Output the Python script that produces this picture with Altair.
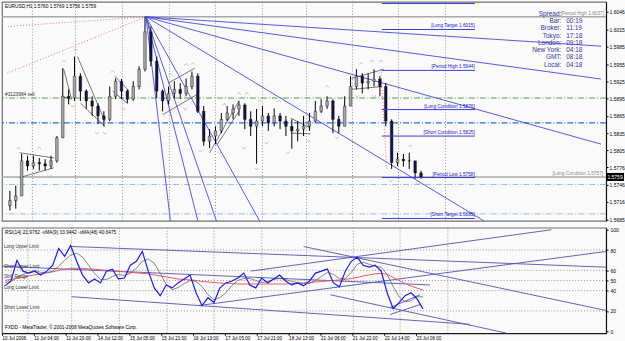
import altair as alt
import pandas as pd

# ---------------- data ----------------
symbol_title = "EURUSD,H1  1.5760 1.5769 1.5756 1.5759"

opens = [1.5709, 1.5718, 1.5726, 1.5787, 1.5778, 1.5784, 1.5782, 1.5778, 1.5787, 1.5827,
         1.5899, 1.5896, 1.5934, 1.5908, 1.5891, 1.5882, 1.5865, 1.5859, 1.5899, 1.5925,
         1.5908, 1.5894, 1.5916, 1.5946, 1.6011, 1.5960, 1.5908, 1.5891, 1.5904, 1.5911,
         1.5904, 1.5916, 1.5934, 1.5873, 1.5821, 1.5830, 1.5839, 1.5859, 1.5870, 1.5877,
         1.5884, 1.5859, 1.5847, 1.5856, 1.5865, 1.5853, 1.5865, 1.5856, 1.5847, 1.5839,
         1.5842, 1.5847, 1.5856, 1.5873, 1.5882, 1.5891, 1.5859, 1.5847, 1.5882, 1.5916,
         1.5934, 1.5922, 1.5925, 1.5929, 1.5916, 1.5856, 1.5784, 1.5790, 1.5787, 1.5787,
         1.5766]
highs = [1.5735, 1.5744, 1.5799, 1.5796, 1.5796, 1.5792, 1.5790, 1.5796, 1.5830, 1.5948,
         1.5911, 1.5968, 1.5939, 1.5911, 1.5899, 1.5887, 1.5873, 1.5916, 1.5930, 1.5929,
         1.5911, 1.5925, 1.5951, 1.6037, 1.6020, 1.5968, 1.5911, 1.5916, 1.5925, 1.5922,
         1.5930, 1.5942, 1.5939, 1.5882, 1.5842, 1.5847, 1.5870, 1.5882, 1.5885, 1.5891,
         1.5887, 1.5873, 1.5877, 1.5882, 1.5870, 1.5878, 1.5870, 1.5865, 1.5859, 1.5856,
         1.5865, 1.5870, 1.5891, 1.5894, 1.5899, 1.5894, 1.5865, 1.5899, 1.5934, 1.5946,
         1.5939, 1.5939, 1.5946, 1.5934, 1.5922, 1.5859, 1.5801, 1.5799, 1.5801, 1.5787,
         1.5770]
lows = [1.5701, 1.5704, 1.5726, 1.5770, 1.5773, 1.5770, 1.5770, 1.5773, 1.5784, 1.5827,
        1.5885, 1.5891, 1.5891, 1.5877, 1.5865, 1.5851, 1.5847, 1.5856, 1.5894, 1.5894,
        1.5887, 1.5891, 1.5911, 1.5942, 1.5951, 1.5896, 1.5873, 1.5885, 1.5896, 1.5894,
        1.5899, 1.5911, 1.5870, 1.5813, 1.5809, 1.5816, 1.5835, 1.5856, 1.5859, 1.5865,
        1.5842, 1.5830, 1.5782, 1.5847, 1.5839, 1.5847, 1.5842, 1.5830, 1.5808, 1.5821,
        1.5830, 1.5839, 1.5853, 1.5870, 1.5877, 1.5835, 1.5835, 1.5847, 1.5882, 1.5911,
        1.5904, 1.5911, 1.5916, 1.5899, 1.5847, 1.5773, 1.5778, 1.5777, 1.5773, 1.5756,
        1.5756]
closes = [1.5718, 1.5726, 1.5787, 1.5778, 1.5784, 1.5782, 1.5778, 1.5787, 1.5827, 1.5899,
          1.5896, 1.5934, 1.5908, 1.5891, 1.5882, 1.5865, 1.5859, 1.5899, 1.5925, 1.5908,
          1.5894, 1.5916, 1.5946, 1.6011, 1.5960, 1.5908, 1.5891, 1.5904, 1.5911, 1.5904,
          1.5916, 1.5934, 1.5873, 1.5821, 1.5830, 1.5839, 1.5859, 1.5870, 1.5877, 1.5884,
          1.5859, 1.5847, 1.5856, 1.5865, 1.5853, 1.5865, 1.5856, 1.5847, 1.5839, 1.5842,
          1.5847, 1.5856, 1.5873, 1.5882, 1.5891, 1.5859, 1.5847, 1.5882, 1.5916, 1.5934,
          1.5922, 1.5925, 1.5929, 1.5916, 1.5856, 1.5784, 1.5790, 1.5787, 1.5787, 1.5766,
          1.5759]

rsi_vals = [44.7, 49.5, 69.9, 59.2, 57.3, 59.2, 55.3, 59.2, 65.0, 81.6,
            73.8, 84.5, 68.9, 55.3, 47.6, 51.5, 47.6, 59.2, 61.2, 51.5,
            52.4, 65.0, 68.9, 78.6, 59.2, 42.7, 35.0, 45.6, 42.7, 47.6,
            51.5, 55.3, 37.9, 25.2, 33.0, 28.2, 42.7, 47.6, 49.5, 52.4,
            57.3, 45.6, 42.7, 52.4, 47.6, 51.5, 55.3, 49.5, 45.6, 47.6,
            44.7, 49.5, 57.3, 59.2, 61.2, 47.6, 43.7, 59.2, 68.9, 72.8,
            65.0, 63.1, 65.0, 59.2, 37.9, 22.3, 28.2, 35.0, 37.9, 32.0,
            22.0]
ma9_vals = [48, 49, 53, 56, 58, 60, 58, 58, 59, 64,
            70, 75, 77, 73, 65, 57, 51, 51, 54, 56,
            55, 57, 62, 69, 71, 67, 57, 46, 41, 43,
            47, 50, 49, 44, 36, 31, 33, 38, 45, 50,
            52, 52, 50, 48, 49, 51, 52, 51, 49, 48,
            47, 47, 50, 54, 58, 56, 52, 52, 58, 66,
            68, 66, 64, 63, 56, 44, 34, 29, 30, 34,
            33.9]
ma48_vals = [50, 51, 52, 53, 54.5, 55.5, 56.5, 57.5, 58.5, 60,
             61, 62, 62, 62, 61.5, 61, 60.5, 60, 59.5, 59,
             58.5, 58, 57.5, 57, 56.5, 55.5, 54.5, 53.5, 52.5, 51.5,
             51, 50.5, 50, 49, 48.5, 48, 47.5, 47, 47, 46.5,
             46.5, 46.5, 46.5, 46.5, 46.5, 46.5, 46.5, 46.5, 47, 47,
             47.5, 48, 48.5, 49, 49.5, 50, 50.5, 51, 52, 53,
             54.5, 55.5, 56.5, 57, 56, 53, 50, 47, 44.5, 42.5,
             40.6]

grid_bars = [13, 35, 59, 83, 106.5, 130.5, 153, 176.5, 200, 224]
price_ticks = [1.6046, 1.6015, 1.5985, 1.5955, 1.5925, 1.5895, 1.5865, 1.5835,
               1.5805, 1.5776, 1.5746, 1.5716, 1.5685]
rsi_ticks = [100, 80, 60, 50, 40, 20, 0]
time_tick_bars = [0, 16, 32, 48, 64, 80, 96, 112, 128, 144, 160, 176, 192, 208]
time_labels = ["10 Jul 2008", "11 Jul 04:00", "11 Jul 20:00", "14 Jul 12:00",
               "15 Jul 05:00", "15 Jul 21:00", "16 Jul 13:00", "17 Jul 05:00",
               "17 Jul 21:00", "18 Jul 13:00", "21 Jul 06:00", "21 Jul 22:00",
               "22 Jul 14:00", "23 Jul 06:00"]

gray_levels = [1.6037, 1.5759]
green_levels = [1.5896]
blue_levels = [1.5853]
light_levels = [1.5746, 1.5695]

level_start = [191.5] * 7
level_end = [239] * 7
level_prices = [1.6060, 1.6015, 1.5944, 1.5876, 1.5830, 1.5758, 1.5687]
level_texts = ["", "[Long Target 1.6015]", "[Period High 1.5944]", "[Long Condition 1.5876]",
               "[Short Condition 1.5825]", "[Period Low 1.5758]", "[Short Target 1.5685]"]

fan_from_bar = 71
fan_from_price = 1.6037
fan_to_bar = [303.5, 303.5, 303.5, 243.5, 83.5, 97.5, 107, 129]
fan_to_price = [1.5986, 1.5929, 1.5816, 1.5683, 1.5683, 1.5683, 1.5683, 1.5683]

red_b1 = [71, 71, 191]
red_p1 = [1.6037, 1.6037, 1.5946]
red_b2 = [0, 0, 194]
red_p2 = [1.6020, 1.5939, 1.5773]

pat_b1 = [6.5, 6.5, 29, 28, 36, 37.5, 55, 54, 82.5, 80, 103.5, 107.5, 145, 145, 176, 176]
pat_p1 = [1.5801, 1.5758, 1.5946, 1.5899, 1.5968, 1.5887, 1.5934, 1.5908, 1.5922, 1.5868,
          1.5801, 1.5816, 1.5861, 1.5835, 1.5930, 1.5911]
pat_b2 = [24, 24, 33, 33, 50, 50, 62.5, 61.5, 96, 97.5, 118.5, 118.5, 155, 155, 192.5, 191.5]
pat_p2 = [1.5792, 1.5775, 1.5894, 1.5894, 1.5856, 1.5847, 1.5908, 1.5887, 1.5948, 1.5903,
          1.5891, 1.5873, 1.5844, 1.5834, 1.5946, 1.5916]

frac_up_bar = [6, 16.5, 29, 35, 54, 83.5, 91.5, 95, 111, 118.5, 122.5, 129, 139, 163.5,
               181, 186.5, 191, 206]
frac_up_price = [1.5809, 1.5809, 1.5960, 1.5980, 1.5942, 1.5937, 1.5954, 1.5956, 1.5885,
                 1.5904, 1.5904, 1.5891, 1.5891, 1.5916, 1.5956, 1.5960, 1.5960, 1.5813]
frac_dn_bar = [21.5, 33.5, 46, 50, 59.5, 80, 91, 99, 108.5, 121, 127.5, 132.5, 143.5,
               154, 168.5, 179, 187.5, 196, 210]
frac_dn_price = [1.5761, 1.5882, 1.5835, 1.5835, 1.5877, 1.5868, 1.5877, 1.5804, 1.5801,
                 1.5809, 1.5773, 1.5818, 1.5801, 1.5821, 1.5827, 1.5899, 1.5899, 1.5752,
                 1.5747]

info_labels = ["Spread:", "Bar:", "Broker:", "Tokyo:", "London:", "New York:", "GMT:", "Local:"]
info_values = ["", "00:19", "11:19", "17:18", "09:18", "04:18", "08:18", "04:18"]

rsi_levels = [80, 60, 50, 40, 20]
rsi_level_names = ["Long Upper Limit", "Short Upper Limit", "Shift Range",
                   "Long Lower Limit", "Short Lower Limit"]

ch_b1 = [35, 35, 151.5, 98.5, 125, 165, 0, 195, 195]
ch_v1 = [83.5, 34, 83.5, 25.2, 59.2, 35.9, 64, 16.5, 23.3]
ch_b2 = [303.5, 235, 303.5, 303.5, 276, 253.5, 215, 210, 210]
ch_v2 = [63.1, 6.8, 20.4, 78.6, 100, -1.9, 45.6, 26.2, 35.9]

rsi_header = "RSI(14) 21.9762  -xMA(9) 33.9442  -xMA(48) 40.6475"
footer = "FXDD - MetaTrader, \u00a9 2001-2008 MetaQuotes Software Corp."

# ---------------- frames ----------------
n = len(closes)
bar_index = [1.5 + 3 * i for i in range(n)]
candles = pd.DataFrame({"bar": bar_index, "open": opens, "high": highs,
                        "low": lows, "close": closes})
osc = pd.DataFrame({"bar": bar_index, "rsi": rsi_vals, "ma9": ma9_vals, "ma48": ma48_vals})
grid_df = pd.DataFrame({"bar": grid_bars})
levels_df = pd.DataFrame({"b1": level_start, "b2": level_end, "price": level_prices,
                          "label": level_texts})
labels_df = levels_df[levels_df["label"] != ""]
fan_df = pd.DataFrame({"b1": [fan_from_bar] * len(fan_to_bar),
                       "p1": [fan_from_price] * len(fan_to_bar),
                       "b2": fan_to_bar, "p2": fan_to_price})
red_df = pd.DataFrame({"b1": red_b1, "p1": red_p1, "b2": red_b2, "p2": red_p2})
pat_df = pd.DataFrame({"b1": pat_b1, "p1": pat_p1, "b2": pat_b2, "p2": pat_p2})
fu_df = pd.DataFrame({"bar": frac_up_bar, "price": frac_up_price})
fd_df = pd.DataFrame({"bar": frac_dn_bar, "price": frac_dn_price})
rl_df = pd.DataFrame({"lvl": rsi_levels, "name": rsi_level_names})
ch_df = pd.DataFrame({"b1": ch_b1, "v1": ch_v1, "b2": ch_b2, "v2": ch_v2})
one = pd.DataFrame({"k": [0]})

FONT = "Liberation Sans"
W = 607
xs = alt.Scale(domain=[0, 303.5], nice=False, zero=False)
ys = alt.Scale(domain=[1.5683, 1.6063], nice=False, zero=False)
rs = alt.Scale(domain=[-2.0, 102.0], nice=False, zero=False)

price_axis = alt.Axis(orient="right", values=price_ticks, format=".4f", labelFontSize=5,
                      labelFont=FONT, labelColor="black", tickSize=2, tickColor="black",
                      domainColor="black", grid=False, title=None, labelPadding=1)
rsi_axis = alt.Axis(orient="right", values=rsi_ticks, format="d", labelFontSize=5,
                    labelFont=FONT, labelColor="black", tickSize=2, tickColor="black",
                    domainColor="black", grid=False, title=None, labelPadding=2)
lab_expr = "[" + ",".join("'%s'" % t for t in time_labels) + "][round(datum.value/16)]"
time_axis = alt.Axis(values=time_tick_bars, labelExpr=lab_expr, labelAlign="left",
                     labelBaseline="top", labelFontSize=4.6, labelFont=FONT,
                     labelColor="black", tickSize=2, tickColor="black", domainColor="black",
                     grid=False, title=None, labelPadding=0.5, labelOverlap=False,
                     labelFlush=False)


def X(f):
    return alt.X(f, type="quantitative", scale=xs, axis=None)


def YP(f):
    return alt.Y(f, type="quantitative", scale=ys, axis=price_axis)


def XR(f):
    return alt.X(f, type="quantitative", scale=xs, axis=time_axis)


def YR(f):
    return alt.Y(f, type="quantitative", scale=rs, axis=rsi_axis)


def hlines(vals, color, dash, width=1.0):
    return alt.Chart(pd.DataFrame({"price": vals})).mark_rule(
        color=color, strokeDash=dash, strokeWidth=width).encode(y=YP("price"))


def segs(df, color, width=1.0, dash=None):
    kw = dict(color=color, strokeWidth=width)
    if dash:
        kw["strokeDash"] = dash
    return alt.Chart(df).mark_rule(**kw).encode(
        x=X("b1"), x2="b2", y=YP("p1"), y2="p2")


grid = alt.Chart(grid_df).mark_rule(color="#7a7a7a", strokeDash=[1, 2],
                                    strokeWidth=0.8).encode(x=X("bar"))

wick = alt.Chart(candles).mark_rule(color="black", strokeWidth=1).encode(
    x=X("bar"), y=YP("low"), y2="high")
body = alt.Chart(candles).mark_bar(size=2.6, stroke="black", strokeWidth=0.4).encode(
    x=X("bar"), y=YP("open"), y2="close",
    color=alt.condition("datum.close >= datum.open", alt.value("#a8a8a8"), alt.value("#14144a")))

up_shape = "M -1 0.6 L 0 -0.6 L 1 0.6"
dn_shape = "M -1 -0.6 L 0 0.6 L 1 -0.6"
frac_up = alt.Chart(fu_df).mark_point(shape=up_shape, filled=False, size=14, color="#a8a8a8",
                                      strokeWidth=0.9).encode(x=X("bar"), y=YP("price"))
frac_dn = alt.Chart(fd_df).mark_point(shape=dn_shape, filled=False, size=14, color="#a8a8a8",
                                      strokeWidth=0.9).encode(x=X("bar"), y=YP("price"))

lvl_rules = alt.Chart(levels_df).mark_rule(color="#3a3ae0", strokeWidth=1).encode(
    x=X("b1"), x2="b2", y=YP("price"))
lvl_text = alt.Chart(labels_df).mark_text(align="right", baseline="bottom", dy=-1,
                                          fontSize=4.8, font=FONT, color="#2020c0").encode(
    x=X("b2"), y=YP("price"), text="label:N")

title_t = alt.Chart(one).mark_text(align="left", baseline="middle", fontSize=4.8, font=FONT,
                                   color="black").encode(
    x=alt.value(3), y=alt.value(5), text=alt.value(symbol_title))
order_t = alt.Chart(pd.DataFrame({"price": green_levels})).mark_text(
    align="left", baseline="bottom", dy=-1, fontSize=4.8, font=FONT, color="#303030").encode(
    x=alt.value(3), y=YP("price"), text=alt.value("#3123984 sell"))
info_l = alt.Chart(one).mark_text(align="right", baseline="top", fontSize=6.5, font=FONT,
                                  lineHeight=7.3, color="#34349a").encode(
    x=alt.value(562), y=alt.value(9), text=alt.value(info_labels))
info_v = alt.Chart(one).mark_text(align="left", baseline="top", fontSize=6.5, font=FONT,
                                  lineHeight=7.3, color="#34349a").encode(
    x=alt.value(567), y=alt.value(9), text=alt.value(info_values))
ph_t = alt.Chart(pd.DataFrame({"price": [1.6037]})).mark_text(
    align="right", baseline="bottom", dy=-1, fontSize=4.8, font=FONT, color="#8a8a8a").encode(
    x=alt.value(605), y=YP("price"), text=alt.value("[Period High 1.6037]"))
lc_t = alt.Chart(pd.DataFrame({"price": [1.5759]})).mark_text(
    align="right", baseline="bottom", dy=-1, fontSize=4.8, font=FONT, color="#8a8a8a").encode(
    x=alt.value(604), y=YP("price"), text=alt.value("[Long Condition 1.5757]"))
tag_box = alt.Chart(pd.DataFrame({"price": [1.5759]})).mark_point(
    shape="M -1 -0.45 L 1 -0.45 L 1 0.45 L -1 0.45 Z", filled=True, size=324, color="black",
    opacity=1).encode(x=alt.value(616), y=YP("price"))
tag_t = alt.Chart(pd.DataFrame({"price": [1.5759]})).mark_text(
    align="center", baseline="middle", fontSize=5, font=FONT, color="white").encode(
    x=alt.value(616), y=YP("price"), text=alt.value("1.5759"))

main = alt.layer(
    grid,
    hlines(gray_levels, "#a9a9a9", [1, 0], 1.4),
    hlines(green_levels, "#4aa04a", [6, 2, 1, 2], 1),
    hlines(blue_levels, "#1f74e0", [6, 2, 1, 2], 1.2),
    hlines(light_levels, "#86c0f5", [6, 2, 1, 2], 1),
    segs(red_df, "#f07070", 1, [1, 2]),
    segs(fan_df, "#4646e6", 0.9),
    segs(pat_df, "#404040", 0.7),
    wick, body, frac_up, frac_dn,
    lvl_rules, lvl_text, title_t, order_t, info_l, info_v, ph_t, lc_t, tag_box, tag_t,
).properties(width=W, height=220)

# ---------------- oscillator panel ----------------
grid_r = alt.Chart(grid_df).mark_rule(color="#7a7a7a", strokeDash=[1, 2],
                                      strokeWidth=0.8).encode(x=XR("bar"))
lvl_r = alt.Chart(rl_df).mark_rule(color="#8a8a8a", strokeDash=[1, 2],
                                   strokeWidth=0.9).encode(y=YR("lvl"))
lvl_rt = alt.Chart(rl_df).mark_text(align="left", baseline="bottom", dy=-1, fontSize=4.6,
                                    font=FONT, color="#303030").encode(
    x=alt.value(2), y=YR("lvl"), text="name:N")
ch = alt.Chart(ch_df).mark_rule(color="#5252b4", strokeWidth=0.9).encode(
    x=XR("b1"), x2="b2", y=YR("v1"), y2="v2")
l48 = alt.Chart(osc).mark_line(color="#f05a5a", strokeWidth=1).encode(x=XR("bar"), y=YR("ma48"))
l9 = alt.Chart(osc).mark_line(color="#555555", strokeWidth=0.7).encode(x=XR("bar"), y=YR("ma9"))
lr = alt.Chart(osc).mark_line(color="#1a1aff", strokeWidth=1.2).encode(x=XR("bar"), y=YR("rsi"))
hdr = alt.Chart(one).mark_text(align="left", baseline="middle", fontSize=4.8, font=FONT,
                               color="black").encode(
    x=alt.value(3), y=alt.value(5), text=alt.value(rsi_header))
ftr = alt.Chart(one).mark_text(align="left", baseline="middle", fontSize=4.8, font=FONT,
                               color="black").encode(
    x=alt.value(3), y=alt.value(101), text=alt.value(footer))

osc_panel = alt.layer(grid_r, lvl_r, ch, l48, l9, lr, lvl_rt, hdr, ftr).properties(
    width=W, height=106)

chart = alt.vconcat(main, osc_panel, spacing=3).properties(
    padding=0, background="#fbfafa"
).configure_view(stroke="#707070", strokeWidth=1.2)

chart.save("out.html", embed_options={"renderer": "svg", "actions": False})
